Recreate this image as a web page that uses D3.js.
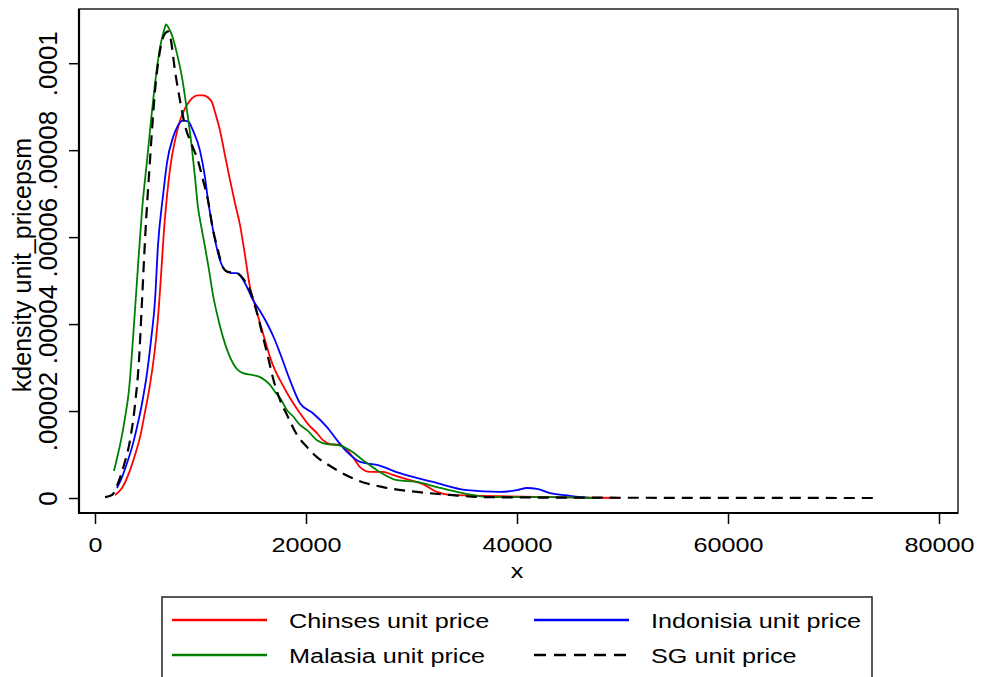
<!DOCTYPE html>
<html>
<head>
<meta charset="utf-8">
<script src="https://cdn.jsdelivr.net/npm/d3@7"></script>
<style>
  body { margin: 0; background: #fff; }
  svg { display: block; }
</style>
</head>
<body>
<div id="chart"></div>
<script>
// Kernel density of unit price per square metre, by buyer nationality.
// Densities are in units of 1e-5 (so 10 = .0001).

const xTicks = [0, 20000, 40000, 60000, 80000];
const xTickLabels = ['0', '20000', '40000', '60000', '80000'];
const yTicks = [0, 2, 4, 6, 8, 10];
const yTickLabels = ['0', '.00002', '.00004', '.00006', '.00008', '.0001'];
const seriesNames = ['Chinses unit price', 'Indonisia unit price', 'Malasia unit price', 'SG unit price'];

const chineseDensity = [
    [1900, 0.07], [2560, 0.23], [3320, 0.64], [3790, 0.99], [4270, 1.40], [4740, 1.98],
    [5210, 2.60], [5690, 3.45], [5970, 4.14], [6260, 5.12], [6540, 6.16], [6830, 6.96],
    [7200, 7.72], [7580, 8.22], [8060, 8.68], [8530, 8.96], [9000, 9.14], [9760, 9.26],
    [10240, 9.26], [10710, 9.21], [11090, 9.10], [11380, 8.87], [11850, 8.45], [12320, 7.88],
    [12800, 7.31], [13270, 6.78], [13750, 6.27], [14220, 5.58], [14690, 4.85], [15170, 4.43],
    [15640, 4.02], [16110, 3.63], [16590, 3.24], [17060, 2.94], [17540, 2.71], [18480, 2.30],
    [19430, 1.95], [20190, 1.70], [21040, 1.49], [21610, 1.33], [22280, 1.24], [23220, 1.22],
    [23700, 1.15], [24170, 1.03], [24650, 0.87], [25120, 0.71], [26070, 0.60], [27300, 0.60],
    [28250, 0.53], [29860, 0.41], [31090, 0.32], [32420, 0.14], [33650, 0.07], [36780, 0.05],
    [43130, 0.02], [49760, 0.00]
];

const indonesiaDensity = [
    [2090, 0.23], [2560, 0.48], [3030, 0.80], [3510, 1.17], [3980, 1.63], [4460, 2.18],
    [4930, 2.87], [5310, 3.63], [5690, 4.55], [5970, 5.81], [6450, 6.96], [6830, 7.72],
    [7390, 8.29], [7870, 8.57], [8340, 8.68], [8820, 8.66], [9290, 8.45], [9950, 7.99],
    [10430, 7.37], [10710, 6.85], [11190, 6.16], [11850, 5.47], [12320, 5.24], [12890, 5.17],
    [13460, 5.17], [14220, 4.94], [14980, 4.55], [15640, 4.30], [16300, 4.02], [16970, 3.68],
    [17540, 3.33], [18480, 2.71], [19430, 2.18], [20660, 1.95], [21990, 1.63], [22940, 1.33],
    [23890, 1.06], [25120, 0.83], [26730, 0.76], [28910, 0.57], [32040, 0.37], [35260, 0.18],
    [38390, 0.14], [40000, 0.18], [40950, 0.23], [41900, 0.21], [43130, 0.11], [45030, 0.05],
    [46920, 0.00]
];

const malaysiaDensity = [
    [1800, 0.62], [2090, 0.92], [2470, 1.33], [2840, 1.84], [3220, 2.48], [3510, 3.35],
    [3790, 4.32], [4080, 5.35], [4460, 6.62], [4930, 7.76], [5310, 8.68], [5690, 9.53],
    [5970, 10.06], [6260, 10.48], [6540, 10.75], [6730, 10.89], [6920, 10.84], [7300, 10.64],
    [7770, 10.22], [8250, 9.67], [8720, 8.91], [9100, 8.22], [9480, 7.37], [9760, 6.69],
    [10050, 6.27], [10430, 5.77], [10810, 5.24], [11190, 4.66], [11660, 4.14], [12130, 3.70],
    [12610, 3.35], [13080, 3.10], [13560, 2.94], [14030, 2.87], [14880, 2.83], [15640, 2.78],
    [16110, 2.71], [16590, 2.60], [17060, 2.44], [17540, 2.30], [18200, 2.02], [18770, 1.88],
    [19430, 1.68], [20100, 1.56], [21040, 1.33], [21990, 1.24], [22940, 1.22], [24170, 1.10],
    [25400, 0.87], [26730, 0.64], [28630, 0.41], [30520, 0.37], [32420, 0.25], [34880, 0.11],
    [37440, 0.02], [43130, 0.02], [47870, 0.00]
];

const sgDensity = [
    [950, 0.02], [1610, 0.07], [2180, 0.34], [2750, 0.76], [3320, 1.33], [3790, 2.14],
    [4170, 3.17], [4460, 4.55], [4740, 5.93], [5210, 7.76], [5690, 9.37], [6160, 10.29],
    [6540, 10.64], [6920, 10.73], [7200, 10.52], [7580, 9.83], [8060, 9.14], [8530, 8.57],
    [9200, 8.11], [9760, 7.76], [10240, 7.31], [10710, 6.85], [11190, 6.16], [11660, 5.70],
    [12040, 5.35], [12510, 5.21], [13460, 5.17], [14030, 5.05], [14690, 4.78], [15360, 4.25],
    [15930, 3.70], [16400, 3.24], [16870, 2.76], [17540, 2.25], [18200, 1.91], [19150, 1.45],
    [20100, 1.17], [21040, 0.94], [21990, 0.78], [22940, 0.64], [24840, 0.41], [27300, 0.25],
    [30520, 0.14], [33650, 0.07], [36780, 0.02], [43130, 0.01], [73750, 0.00]
];

const Chart = (function() {
    const width = 981;
    const height = 677;
    const font = 'Arial, "Liberation Sans", Helvetica, sans-serif';
    const plot = { left: 79, right: 958, top: 9, bottom: 513 };

    const x = d3.scaleLinear().domain([0, 80000]).range([95, 939]);
    const y = d3.scaleLinear().domain([0, 10]).range([498, 63.2]);

    const styles = [
        { color: '#ff0000', dash: null, width: 1.8 },
        { color: '#0000ff', dash: null, width: 1.8 },
        { color: '#008000', dash: null, width: 1.8 },
        { color: '#000000', dash: '11,7', width: 2.2 }
    ];

    let svg = null;

    function init(containerId) {
        svg = d3.select(`#${containerId}`).append('svg')
            .attr('width', width)
            .attr('height', height)
            .style('background', '#fff');
        return svg;
    }

    /**
     * Axes, ticks and titles
     */
    function drawAxes() {
        // frame of plot region
        svg.append('rect')
            .attr('x', plot.left)
            .attr('y', plot.top)
            .attr('width', plot.right - plot.left)
            .attr('height', plot.bottom - plot.top)
            .attr('fill', 'none')
            .attr('stroke', '#222')
            .attr('stroke-width', 1.5);

        const yAxis = svg.append('g')
            .attr('transform', `translate(${plot.left},0)`)
            .call(d3.axisLeft(y)
                .tickValues(yTicks)
                .tickFormat((d, i) => yTickLabels[i])
                .tickSize(10)
                .tickSizeOuter(0))
            .attr('font-family', font)
            .attr('font-size', 26);
        yAxis.select('.domain').remove();
        yAxis.selectAll('.tick line').attr('stroke', '#000').attr('stroke-width', 1.5);
        yAxis.selectAll('.tick text')
            .attr('x', null)
            .attr('dy', null)
            .attr('fill', '#000')
            .attr('text-anchor', 'middle')
            .attr('transform', 'translate(-22,0) rotate(-90)');

        const xAxis = svg.append('g')
            .attr('transform', `translate(0,${plot.bottom})`)
            .call(d3.axisBottom(x)
                .tickValues(xTicks)
                .tickFormat((d, i) => xTickLabels[i])
                .tickSize(11)
                .tickSizeOuter(0))
            .attr('font-family', font)
            .attr('font-size', 21);
        xAxis.select('.domain').remove();
        xAxis.selectAll('.tick line').attr('stroke', '#000').attr('stroke-width', 1.5);
        xAxis.selectAll('.tick text')
            .attr('y', null)
            .attr('dy', null)
            .attr('fill', '#000')
            .attr('transform', 'translate(0,39) scale(1.2,1)');

        // left and bottom axis lines drawn heavier
        svg.append('path')
            .attr('d', `M${plot.left},${plot.top}V${plot.bottom}H${plot.right}`)
            .attr('fill', 'none')
            .attr('stroke', '#000')
            .attr('stroke-width', 2.2);

        svg.append('text')
            .attr('transform', `translate(31,${(plot.top + plot.bottom) / 2 + 4}) rotate(-90)`)
            .attr('text-anchor', 'middle')
            .attr('font-family', font)
            .attr('font-size', 25)
            .text('kdensity unit_pricepsm');

        svg.append('text')
            .attr('transform', 'translate(517,578) scale(1.2,1)')
            .attr('text-anchor', 'middle')
            .attr('font-family', font)
            .attr('font-size', 21)
            .text('x');
    }

    /**
     * Density curves
     */
    function drawLines(allSeries) {
        const line = d3.line()
            .x(d => x(d[0]))
            .y(d => y(d[1]))
            .curve(d3.curveMonotoneX);

        svg.append('g')
            .selectAll('path')
            .data(allSeries)
            .enter()
            .append('path')
            .attr('d', d => line(d))
            .attr('fill', 'none')
            .attr('stroke', (d, i) => styles[i].color)
            .attr('stroke-width', (d, i) => styles[i].width)
            .attr('stroke-dasharray', (d, i) => styles[i].dash)
            .attr('stroke-linejoin', 'round');
    }

    /**
     * Legend below the plot, two columns filled row-wise
     */
    function drawLegend() {
        const box = { x: 162, y: 597, w: 710, h: 82 };
        svg.append('rect')
            .attr('x', box.x)
            .attr('y', box.y)
            .attr('width', box.w)
            .attr('height', box.h)
            .attr('fill', '#fff')
            .attr('stroke', '#222')
            .attr('stroke-width', 1.5);

        const colX = [172, 534];
        const rowY = [620, 655];

        const items = svg.append('g')
            .selectAll('g')
            .data(seriesNames)
            .enter()
            .append('g')
            .attr('transform', (d, i) => `translate(${colX[i % 2]},${rowY[Math.floor(i / 2)]})`);

        items.append('line')
            .attr('x1', 0)
            .attr('x2', 95)
            .attr('stroke', (d, i) => styles[i].color)
            .attr('stroke-width', 2.6)
            .attr('stroke-dasharray', (d, i) => styles[i].dash ? '12,8' : null);

        items.append('text')
            .attr('transform', 'translate(117,7.5) scale(1.2,1)')
            .attr('font-family', font)
            .attr('font-size', 21)
            .text(d => d);
    }

    return { init, drawAxes, drawLines, drawLegend };
})();

Chart.init('chart');
Chart.drawLines([chineseDensity, indonesiaDensity, malaysiaDensity, sgDensity]);
Chart.drawAxes();
Chart.drawLegend();
</script>
</body>
</html>
